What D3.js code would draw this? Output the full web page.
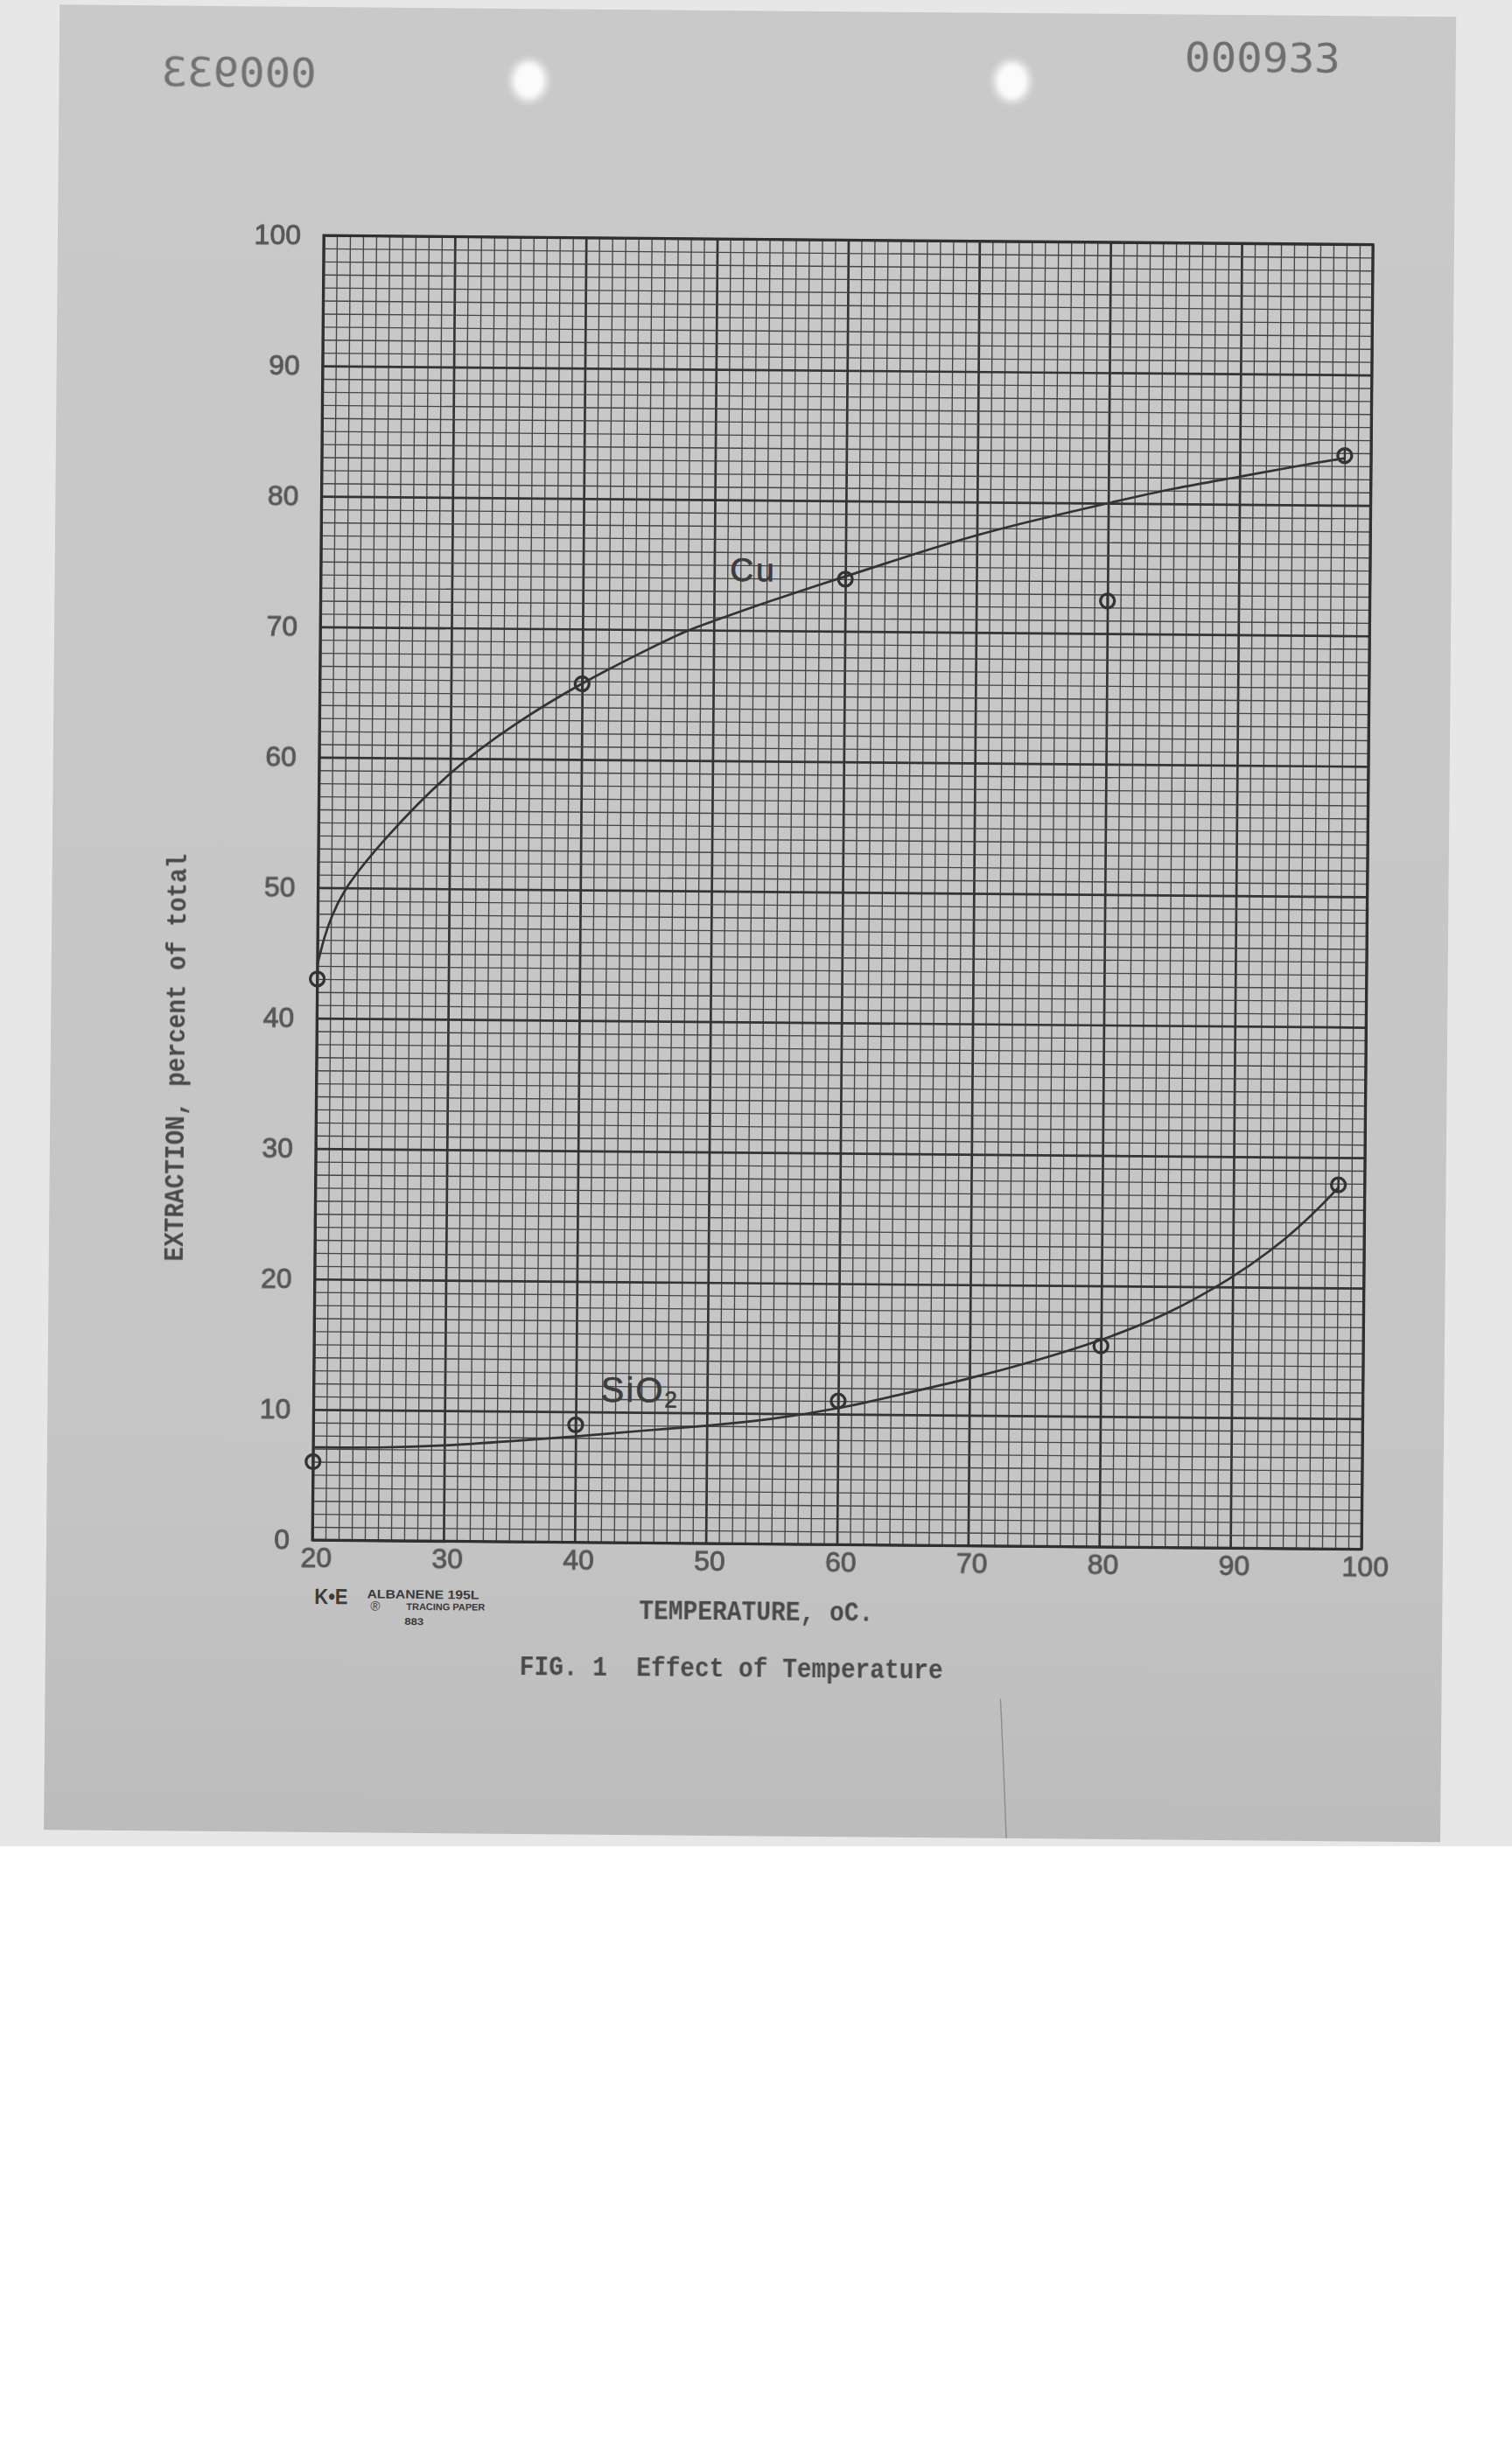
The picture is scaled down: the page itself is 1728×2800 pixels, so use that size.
<!DOCTYPE html>
<html>
<head>
<meta charset="utf-8">
<script src="https://cdn.jsdelivr.net/npm/d3@7"></script>
<style>
  body { margin: 0; background: #ffffff; }
  svg { display: block; }
</style>
</head>
<body>
<svg id="chart" width="1728" height="2800"></svg>
<script>
// ---------------- data ----------------
const temperatures   = [20, 40, 60, 80, 98];
const cuExtraction   = [43.0, 65.8, 74.0, 72.5, 83.8];
const sio2Extraction = [6.0, 9.0, 11.0, 15.4, 27.9];

// hand-drawn smooth curves, read along their length
const cuCurveT   = [20, 20.5, 21, 22, 25, 30, 35, 40, 45, 48, 50, 54, 60, 65, 70, 75, 80, 85, 90, 95, 98];
const cuCurveE   = [44.1, 46.2, 47.7, 50.0, 53.8, 59.1, 62.8, 65.9, 68.5, 70.0, 70.7, 72.2, 74.2, 75.9, 77.5, 78.8, 80.0, 81.2, 82.1, 83.1, 83.6];
const sio2CurveT = [20, 25, 30, 35, 40, 45, 50, 55, 60, 65, 70, 75, 80, 85, 90, 93, 95, 97, 98];
const sio2CurveE = [7.1, 7.1, 7.3, 7.7, 8.1, 8.6, 9.0, 9.55, 10.4, 11.6, 12.8, 14.2, 15.8, 17.8, 20.7, 22.9, 24.6, 26.6, 27.7];

const xTickLabels = [20, 30, 40, 50, 60, 70, 80, 90, 100];
const yTickLabels = [0, 10, 20, 30, 40, 50, 60, 70, 80, 90, 100];

const seriesLabels = ["Cu", "SiO", "2"];
const xTitle = "TEMPERATURE, oC.";
const yTitle = "EXTRACTION, percent of total";
const figTitle = "FIG. 1  Effect of Temperature";
const stampText = "000933";

// ---------------- drawing ----------------
const svg = d3.select("#chart");
const defs = svg.append("defs");

const soft = defs.append("filter").attr("id", "soft");
soft.append("feGaussianBlur").attr("stdDeviation", 0.6);
const holeBlur = defs.append("filter").attr("id", "holeBlur")
  .attr("x", "-60%").attr("y", "-60%").attr("width", "220%").attr("height", "220%");
holeBlur.append("feGaussianBlur").attr("stdDeviation", 2.5);

const pg = defs.append("linearGradient").attr("id", "paperGrad")
  .attr("x1", 0).attr("y1", 0).attr("x2", 0).attr("y2", 1);
pg.append("stop").attr("offset", "0").attr("stop-color", "#c9c9c9");
pg.append("stop").attr("offset", "0.8").attr("stop-color", "#c5c5c5");
pg.append("stop").attr("offset", "1").attr("stop-color", "#bcbcbc");

// scanner background
svg.append("rect").attr("width", 1728).attr("height", 2800).attr("fill", "#ffffff");
svg.append("rect").attr("width", 1728).attr("height", 2110).attr("fill", "#e7e7e7");

// the sheet (slightly rotated on the scanner)
const paper = svg.append("g").attr("transform", "rotate(0.5,370,269)");
paper.append("rect").attr("x", 66).attr("y", 8).attr("width", 1596).attr("height", 2086)
  .attr("fill", "url(#paperGrad)");

// punch holes
[[603, 90], [1155, 86]].forEach(([cx, cy]) => {
  paper.append("ellipse").attr("cx", cx).attr("cy", cy).attr("rx", 24).attr("ry", 27)
    .attr("fill", "#dadada").attr("filter", "url(#holeBlur)");
  paper.append("ellipse").attr("cx", cx).attr("cy", cy).attr("rx", 18).attr("ry", 21)
    .attr("fill", "#fbfbfb").attr("filter", "url(#holeBlur)");
});

// crease near bottom
paper.append("path").attr("d", "M1158,1935 L1162,2010 L1166,2094")
  .attr("fill", "none").attr("stroke", "#8c8c8c").attr("stroke-width", 1.4);

// stamps
paper.append("text").attr("x", 1352).attr("y", 73)
  .attr("font-family", "DejaVu Sans Mono").attr("font-size", 46)
  .attr("textLength", 178).attr("lengthAdjust", "spacingAndGlyphs")
  .attr("fill", "#6e6e6e").attr("filter", "url(#soft)").text(stampText);
paper.append("text").attr("transform", "translate(360,100) scale(-1,1)")
  .attr("x", 0).attr("y", 0)
  .attr("font-family", "DejaVu Sans Mono").attr("font-size", 46)
  .attr("textLength", 177).attr("lengthAdjust", "spacingAndGlyphs")
  .attr("fill", "#727272").attr("filter", "url(#soft)").text(stampText);

// scales
const x = d3.scaleLinear().domain([20, 100]).range([370, 1569]);
const y = d3.scaleLinear().domain([0, 100]).range([1760, 269]);
const plotW = x(100) - x(20), plotH = y(0) - y(100);

const minorX = d3.range(20, 101, 1);
const minorY = d3.range(0, 101, 1);
const gridColor = d => (d % 10 === 0 ? "#343434" : "#454545");
const gridWidth = d => (d % 10 === 0 ? 2.7 : 1.35);

// vertical grid lines
const gx = paper.append("g").attr("transform", `translate(0,${y(0)})`)
  .call(d3.axisBottom(x).tickValues(minorX).tickSize(-plotH).tickFormat(""));
gx.select(".domain").remove();
gx.selectAll(".tick line").attr("stroke", gridColor).attr("stroke-width", gridWidth);

// horizontal grid lines
const gy = paper.append("g").attr("transform", `translate(${x(20)},0)`)
  .call(d3.axisLeft(y).tickValues(minorY).tickSize(-plotW).tickFormat(""));
gy.select(".domain").remove();
gy.selectAll(".tick line").attr("stroke", gridColor).attr("stroke-width", gridWidth);

// frame
paper.append("rect").attr("x", x(20)).attr("y", y(100)).attr("width", plotW).attr("height", plotH)
  .attr("fill", "none").attr("stroke", "#303030").attr("stroke-width", 3);

// tick labels
const labelFont = "Liberation Sans";
const ay = paper.append("g").attr("transform", `translate(${x(20)},0)`)
  .call(d3.axisLeft(y).tickValues(yTickLabels).tickSize(0).tickPadding(26).tickFormat(d3.format("d")));
ay.select(".domain").remove();
ay.selectAll("text").attr("font-family", labelFont).attr("font-size", 32)
  .attr("fill", "#575757").attr("stroke", "#575757").attr("stroke-width", 0.9)
  .attr("filter", "url(#soft)");

const ax = paper.append("g").attr("transform", `translate(0,${y(0)})`)
  .call(d3.axisBottom(x).tickValues(xTickLabels).tickSize(0).tickPadding(8).tickFormat(d3.format("d")));
ax.select(".domain").remove();
ax.selectAll("text").attr("font-family", labelFont).attr("font-size", 32)
  .attr("dx", 4).attr("fill", "#575757").attr("stroke", "#575757").attr("stroke-width", 0.9)
  .attr("filter", "url(#soft)");

// typed titles
const typeFont = "Liberation Mono";
paper.append("text").attr("x", 744).attr("y", 1847)
  .attr("font-family", typeFont).attr("font-weight", "bold").attr("font-size", 31)
  .attr("textLength", 268).attr("lengthAdjust", "spacingAndGlyphs")
  .attr("fill", "#4a4a4a").attr("filter", "url(#soft)").text(xTitle);
paper.append("text").attr("x", 608).attr("y", 1912).attr("xml:space", "preserve")
  .attr("font-family", typeFont).attr("font-weight", "bold").attr("font-size", 31)
  .attr("textLength", 484).attr("lengthAdjust", "spacingAndGlyphs")
  .attr("fill", "#4a4a4a").attr("filter", "url(#soft)").text(figTitle);
paper.append("text").attr("transform", "translate(219,1443) rotate(-90)")
  .attr("x", 0).attr("y", 0)
  .attr("font-family", typeFont).attr("font-weight", "bold").attr("font-size", 31)
  .attr("textLength", 466).attr("lengthAdjust", "spacingAndGlyphs")
  .attr("fill", "#4a4a4a").attr("filter", "url(#soft)").text(yTitle);

// paper maker's imprint
const imp = paper.append("g").attr("fill", "#3a3a3a").attr("font-family", "Liberation Sans").attr("font-weight", "bold");
imp.append("text").attr("x", 373).attr("y", 1833).attr("font-size", 25)
  .attr("textLength", 38).attr("lengthAdjust", "spacingAndGlyphs").text("K•E");
imp.append("text").attr("x", 433).attr("y", 1826).attr("font-size", 14)
  .attr("textLength", 128).attr("lengthAdjust", "spacingAndGlyphs").text("ALBANENE 195L");
imp.append("text").attr("x", 437).attr("y", 1840).attr("font-size", 15).attr("font-weight", "normal").text("®");
imp.append("text").attr("x", 478).attr("y", 1839).attr("font-size", 11)
  .attr("textLength", 90).attr("lengthAdjust", "spacingAndGlyphs").text("TRACING PAPER");
imp.append("text").attr("x", 476).attr("y", 1856).attr("font-size", 11)
  .attr("textLength", 22).attr("lengthAdjust", "spacingAndGlyphs").text("883");

// curves
const ink = "#333333";
const line = d3.line().x(d => x(d[0])).y(d => y(d[1])).curve(d3.curveBasis);
paper.append("path").datum(d3.zip(cuCurveT, cuCurveE)).attr("d", line)
  .attr("fill", "none").attr("stroke", ink).attr("stroke-width", 2.7);
paper.append("path").datum(d3.zip(sio2CurveT, sio2CurveE)).attr("d", line)
  .attr("fill", "none").attr("stroke", ink).attr("stroke-width", 2.7);

// data points (small circles with a stroke through)
function drawPoints(vals) {
  const g = paper.append("g");
  const pts = d3.zip(temperatures, vals);
  g.selectAll("circle").data(pts).join("circle")
    .attr("cx", d => x(d[0])).attr("cy", d => y(d[1])).attr("r", 8)
    .attr("fill", "none").attr("stroke", ink).attr("stroke-width", 3.3);
  g.selectAll("line").data(pts).join("line")
    .attr("x1", d => x(d[0])).attr("x2", d => x(d[0]))
    .attr("y1", d => y(d[1]) - 7).attr("y2", d => y(d[1]) + 7)
    .attr("stroke", ink).attr("stroke-width", 2.4);
}
drawPoints(cuExtraction);
drawPoints(sio2Extraction);

// series labels
paper.append("text").attr("x", x(51.2)).attr("y", y(73.8))
  .attr("font-family", "Liberation Sans").attr("font-size", 37).attr("letter-spacing", 3)
  .attr("fill", "#3c3c3c").attr("stroke", "#3c3c3c").attr("stroke-width", 0.8).text(seriesLabels[0]);
const sio = paper.append("text").attr("x", x(41.9)).attr("y", y(10.8))
  .attr("font-family", "Liberation Sans").attr("font-size", 40).attr("letter-spacing", 2)
  .attr("fill", "#3c3c3c").attr("stroke", "#3c3c3c").attr("stroke-width", 0.6);
sio.append("tspan").text(seriesLabels[1]);
sio.append("tspan").attr("font-size", 26).attr("dy", 6).text(seriesLabels[2]);
</script>
</body>
</html>
